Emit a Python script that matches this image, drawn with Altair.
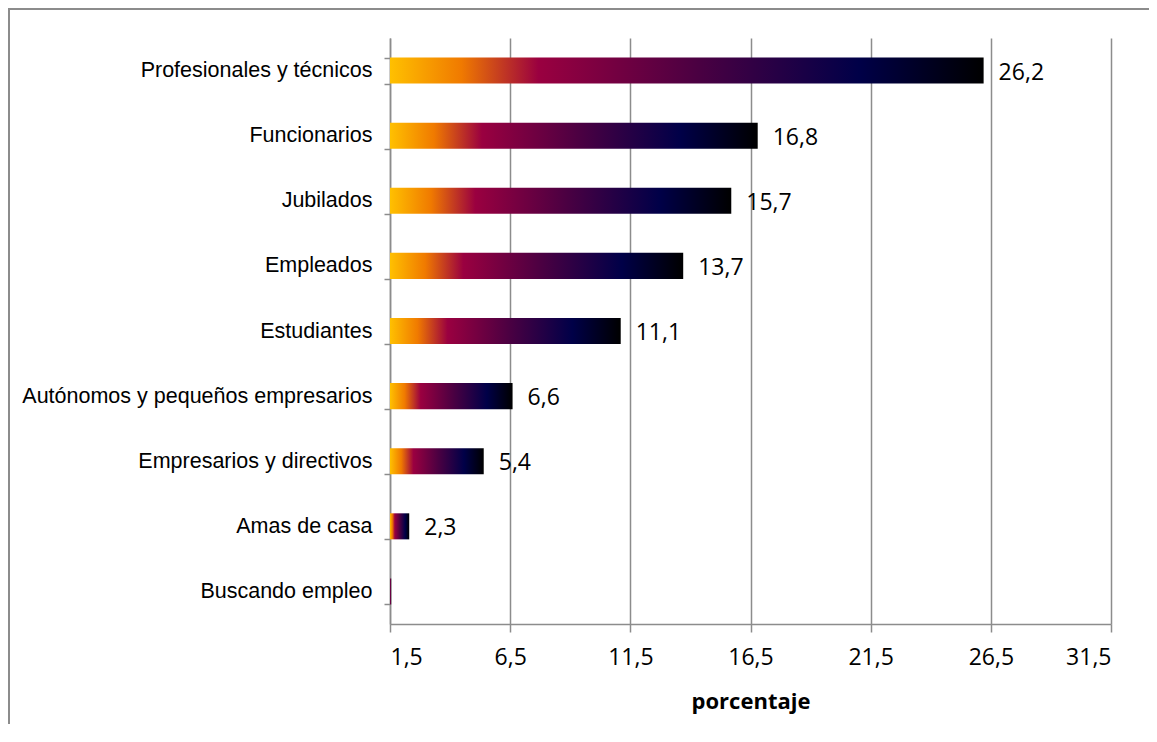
import altair as alt
import pandas as pd

categories = [
    "Profesionales y técnicos",
    "Funcionarios",
    "Jubilados",
    "Empleados",
    "Estudiantes",
    "Autónomos y pequeños empresarios",
    "Empresarios y directivos",
    "Amas de casa",
    "Buscando empleo",
]
values = [26.2, 16.8, 15.7, 13.7, 11.1, 6.6, 5.4, 2.3, 1.55]
value_labels = ["26,2", "16,8", "15,7", "13,7", "11,1", "6,6", "5,4", "2,3", ""]
x_ticks = [1.5, 6.5, 11.5, 16.5, 21.5, 26.5, 31.5]

df = pd.DataFrame({"cat": categories, "val": values, "lab": value_labels})

W, H = 721, 586
GRAY = "#8c8c8c"

grad = alt.LinearGradient(
    gradient="linear",
    x1=0, x2=1, y1=0, y2=0,
    stops=[
        alt.GradientStop(color="#FFC000", offset=0.0),
        alt.GradientStop(color="#F07A00", offset=0.12),
        alt.GradientStop(color="#9A0040", offset=0.25),
        alt.GradientStop(color="#4A0042", offset=0.52),
        alt.GradientStop(color="#000048", offset=0.79),
        alt.GradientStop(color="#000000", offset=1.0),
    ],
)

xscale = alt.Scale(domain=[1.5, 31.5], nice=False, zero=False)
yscale = alt.Scale(domain=categories, paddingInner=0.6, paddingOuter=0.3)

base = alt.Chart(df)

bars = base.mark_bar(color=grad).encode(
    x=alt.X(
        "val:Q",
        scale=xscale,
        title="porcentaje",
        axis=alt.Axis(
            values=x_ticks,
            labelExpr="replace(format(datum.value, '.1f'), '.', ',')",
            grid=True,
            gridColor=GRAY,
            gridWidth=1.5,
            domainColor=GRAY,
            domainWidth=1.5,
            tickColor=GRAY,
            tickWidth=1.5,
            tickSize=8,
            labelPadding=14,
            labelFont="Open Sans",
            labelFontSize=23,
            labelColor="#000000",
            titleFont="Open Sans",
            titleFontSize=22,
            titleFontWeight="bold",
            titleColor="#000000",
            titlePadding=22,
        ),
    ),
    x2=alt.datum(1.5),
    y=alt.Y(
        "cat:N",
        scale=yscale,
        sort=categories,
        title=None,
        axis=alt.Axis(
            domainColor=GRAY,
            domainWidth=1.5,
            tickColor=GRAY,
            tickWidth=1.5,
            tickSize=6,
            tickBand="extent",
            labelPadding=12,
            labelFont="Liberation Sans",
            labelFontSize=21.5,
            labelColor="#000000",
            labelLimit=400,
        ),
    ),
)

texts = base.mark_text(
    align="left", baseline="middle", dx=15, dy=2,
    font="Open Sans", fontSize=23, color="#000000",
).encode(
    x=alt.X("val:Q", scale=xscale),
    y=alt.Y("cat:N", scale=yscale, sort=categories),
    text="lab:N",
)

frame = alt.Chart(pd.DataFrame({"k": [0]})).mark_rect(
    fill=None, filled=False, stroke=GRAY, strokeWidth=2, clip=False
).encode(
    x=alt.value(-381), x2=alt.value(W + 200),
    y=alt.value(-29), y2=alt.value(H + 200),
)

chart = (
    alt.layer(bars, texts, frame)
    .properties(
        width=W,
        height=H,
        autosize=alt.AutoSizeParams(type="none"),
        padding={"left": 382, "top": 30, "right": 38, "bottom": 100},
        background="white",
    )
    .configure_view(stroke=None)
)

chart.save("out.html", embed_options={"renderer": "svg", "actions": False})
